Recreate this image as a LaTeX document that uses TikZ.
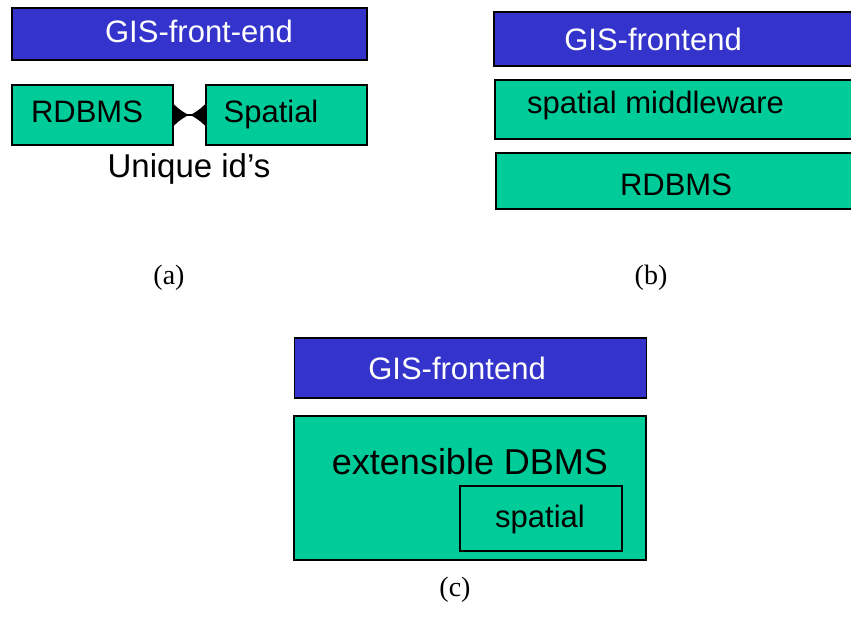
\documentclass[tikz,border=0pt]{standalone}
\usepackage{fontspec}
\setmainfont{Liberation Serif}
\setsansfont{Liberation Sans}
\usetikzlibrary{arrows.meta}

\definecolor{gisblue}{HTML}{3434CC}
\definecolor{dbgreen}{HTML}{00CC99}

\tikzset{
  layer/.style={draw=black, line width=1.6pt, inner sep=0pt},
  front/.style={layer, fill=gisblue},
  store/.style={layer, fill=dbgreen},
  word/.style={anchor=base, inner sep=0pt, font=\sffamily\fontsize{31}{36}\selectfont},
  caption/.style={anchor=base, inner sep=0pt, font=\fontsize{28}{32}\selectfont},
  idlink/.style={line width=1.4pt,
    arrows={Latex[reversed,length=15pt,width=22pt]-Latex[reversed,length=15pt,width=22pt]}},
}

\begin{document}
\begin{tikzpicture}[x=1pt, y=-1pt]
        \useasboundingbox (0,0) rectangle (851,630);
        \clip (0,0) rectangle (851,630);

        % (a) loose coupling
        \node[front, minimum width=355pt, minimum height=52pt] (fa) at (189.5, 34) {};
        \node[word, text=white] (fatxt) at (199, 42) {GIS-front-end};
        \node[store, minimum width=161pt, minimum height=60pt] (rdb) at (92.5, 115) {};
        \node[word] (rdbtxt) at (87, 122) {RDBMS};
        \node[store, minimum width=161pt, minimum height=60pt] (spa) at (286.5, 115) {};
        \node[word] (spatxt) at (271, 122) {Spatial};
        \draw[idlink] (rdb.east) -- (spa.west);
        \node[word, font=\sffamily\fontsize{33}{38}\selectfont] (uid) at (189, 177) {Unique id’s};
        \node[caption] (capa) at (169, 284) {(a)};

        % (b) middleware
        \node[front, minimum width=370pt, minimum height=54pt] (fb) at (679, 39) {};
        \node[word, text=white] (fbtxt) at (653, 50) {GIS-frontend};
        \node[store, minimum width=370pt, minimum height=59pt] (mid) at (680, 109.5) {};
        \node[word, anchor=base west] (midtxt) at (527, 113) {spatial middleware};
        \node[store, minimum width=370pt, minimum height=56pt] (rdbb) at (681, 181) {};
        \node[word] (rdbbtxt) at (676, 195) {RDBMS};
        \node[caption] (capb) at (651, 284) {(b)};

        % (c) extensible DBMS
        \node[front, minimum width=352pt, minimum height=60pt] (fc) at (470.5, 368) {};
        \node[word, text=white] (fctxt) at (457, 379) {GIS-frontend};
        \node[store, minimum width=352pt, minimum height=144pt] (ext) at (470, 488) {};
        \node[word, font=\sffamily\fontsize{36}{42}\selectfont] (exttxt) at (470, 474) {extensible DBMS};
        \node[store, minimum width=162pt, minimum height=65pt] (spc) at (541, 518.5) {};
        \node[word] (spctxt) at (540, 527) {spatial};
        \node[caption] (capc) at (455, 596) {(c)};
\end{tikzpicture}
\end{document}
